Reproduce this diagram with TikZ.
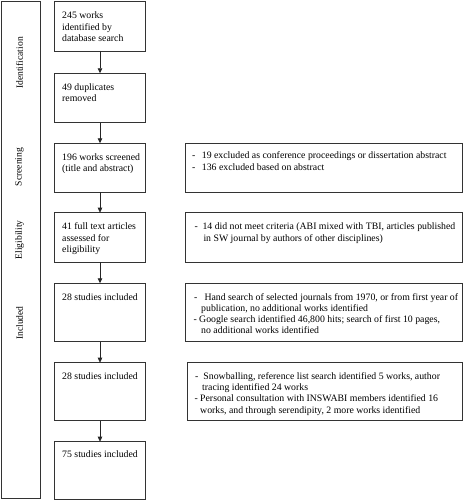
\documentclass[tikz,border=0pt]{standalone}
\usepackage{fontspec}
\setmainfont{Liberation Serif}
\usetikzlibrary{arrows.meta}
\begin{document}
\begin{tikzpicture}[x=1pt,y=-1pt,
  box/.style={draw=black!80, line width=0.8pt, inner sep=0pt, outer sep=0pt, anchor=north west},
  mainbox/.style={box, minimum width=91pt},
  sidebox/.style={box},
  txt/.style={anchor=north west, inner sep=0pt, align=left, font=\fontsize{9.8}{11.7}\selectfont},
  stxt/.style={anchor=north west, inner sep=0pt, align=left, font=\fontsize{9.8}{#1}\selectfont},
  arr/.style={draw=black!85, line width=0.8pt, -{Triangle[length=5pt,width=4.5pt]}},
  lab/.style={rotate=90, inner sep=0pt, font=\fontsize{9.6}{11.7}\selectfont}]
\useasboundingbox (0,0) rectangle (465,500);

% phase column
\node[box, minimum width=39pt, minimum height=497.5pt] (phase) at (1,1) {};
\node[lab] (lid) at (19.5,63) {Identification};
\node[lab] (lsc) at (19.5,167) {Screening};
\node[lab] (lel) at (19.5,240) {Eligibility};
\node[lab] (lin) at (19.5,323) {Included};

% main column
\node[mainbox, minimum height=49.3pt] (b1) at (54.3,1.7) {};
\node[mainbox, minimum height=49.4pt] (b2) at (54.3,73.3) {};
\node[mainbox, minimum height=49pt] (b3) at (54.3,143.3) {};
\node[mainbox, minimum height=49.6pt] (b4) at (54.3,212.7) {};
\node[mainbox, minimum height=58.4pt] (b5) at (54.3,283.3) {};
\node[mainbox, minimum height=58pt] (b6) at (54.3,362.7) {};
\node[mainbox, minimum height=57.3pt] (b7) at (54.3,441.7) {};

\node[txt] (t1) at ([shift={(7.7,8.4)}]b1.north west) {\strut 245 works\\identified by\\database search};
\node[txt] (t2) at ([shift={(7.7,8.4)}]b2.north west) {\strut 49 duplicates\\removed};
\node[txt] (t3) at ([shift={(7.7,8.4)}]b3.north west) {\strut 196 works screened\\(title and abstract)};
\node[txt] (t4) at ([shift={(7.7,8.4)}]b4.north west) {\strut 41 full text articles\\assessed for\\eligibility};
\node[txt] (t5) at ([shift={(7.7,8.4)}]b5.north west) {\strut 28 studies included};
\node[txt] (t6) at ([shift={(7.7,8.4)}]b6.north west) {\strut 28 studies included};
\node[txt] (t7) at ([shift={(7.7,7.8)}]b7.north west) {\strut 75 studies included};

% side column
\node[sidebox, minimum width=276.6pt, minimum height=49pt] (r1) at (185.7,143.3) {};
\node[sidebox, minimum width=276.6pt, minimum height=49.6pt] (r2) at (185.7,212.7) {};
\node[sidebox, minimum width=276.6pt, minimum height=58.4pt] (r3) at (185.7,283.3) {};
\node[sidebox, minimum width=274.6pt, minimum height=58pt] (r4) at (187.7,362.7) {};

\node[stxt=12] (s1) at ([shift={(6.3,6.6)}]r1.north west)
  {\strut\makebox[9.7pt][l]{-}19 excluded as conference proceedings or dissertation abstract\\
   \makebox[9.7pt][l]{-}136 excluded based on abstract};
\node[stxt=12] (s2) at ([shift={(8.6,7.9)}]r2.north west)
  {\strut\makebox[8pt][l]{-}14 did not meet criteria (ABI mixed with TBI, articles published\\
   \hspace*{9pt}in SW journal by authors of other disciplines)};
\node[stxt=11.2] (s3) at ([shift={(7.6,8.9)}]r3.north west)
  {\strut\hspace*{0.7pt}\makebox[10.3pt][l]{-}Hand search of selected journals from 1970, or from first year of\\
   \hspace*{7.7pt}publication, no additional works identified\\
   \makebox[5.7pt][l]{-}Google search identified 46,800 hits; search of first 10 pages,\\
   \hspace*{7.7pt}no additional works identified};
\node[stxt=11.2] (s4) at ([shift={(6.6,8.8)}]r4.north west)
  {\strut\hspace*{0.7pt}\makebox[8.3pt][l]{-}Snowballing, reference list search identified 5 works, author\\
   \hspace*{7.7pt}tracing identified 24 works\\
   \makebox[5.7pt][l]{-}Personal consultation with INSWABI members identified 16\\
   \hspace*{5.7pt}works, and through serendipity, 2 more works identified};

% arrows
\foreach \a/\b in {b1/b2,b2/b3,b3/b4,b4/b5,b5/b6,b6/b7}
  \draw[arr] ([xshift=45.7pt]\a.south west) -- ([xshift=45.7pt]\b.north west);
\end{tikzpicture}
\end{document}
